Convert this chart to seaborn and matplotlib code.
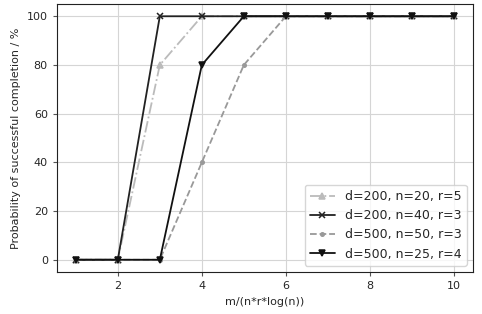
import numpy as np
import pandas as pd
import matplotlib.pyplot as plt
import seaborn as sns

x = [1, 2, 3, 4, 5, 6, 7, 8, 9, 10]
s1 = [0, 0, 80, 100, 100, 100, 100, 100, 100, 100]
s2 = [0, 0, 100, 100, 100, 100, 100, 100, 100, 100]
s3 = [0, 0, 0, 40, 80, 100, 100, 100, 100, 100]
s4 = [0, 0, 0, 80, 100, 100, 100, 100, 100, 100]
labels = ["d=200, n=20, r=5", "d=200, n=40, r=3", "d=500, n=50, r=3", "d=500, n=25, r=4"]

sns.set_style("whitegrid", {"axes.edgecolor": "#222222", "grid.color": "#d5d5d5"})
plt.rcParams['font.family'] = ['DejaVu Sans']

fig, ax = plt.subplots(figsize=(4.82, 3.14), dpi=100)

styles = [
    dict(color="#bbbbbb", linestyle="-.", marker="^"),
    dict(color="#222222", linestyle="-", marker="x"),
    dict(color="#999999", linestyle="--", marker="."),
    dict(color="#111111", linestyle="-", marker="v"),
]
for y, lab, st in zip([s1, s2, s3, s4], labels, styles):
    sns.lineplot(x=x, y=y, ax=ax, label=lab, markersize=5, linewidth=1.3,
                 markeredgecolor=st["color"], markeredgewidth=1.1, **st)

ax.set_xlabel("m/(n*r*log(n))", fontsize=8)
ax.set_ylabel("Probability of successful completion / %", fontsize=8)
ax.tick_params(labelsize=8, length=3, color="#555555", bottom=True, left=True)
ax.set_xticks([2, 4, 6, 8, 10])
ax.set_yticks([0, 20, 40, 60, 80, 100])
ax.set_xlim(0.55, 10.45)
ax.set_ylim(-5, 105)
ax.legend(loc="lower right", fontsize=9, frameon=True)
plt.subplots_adjust(left=0.118, right=0.981, top=0.987, bottom=0.134)
plt.savefig("out.png")
